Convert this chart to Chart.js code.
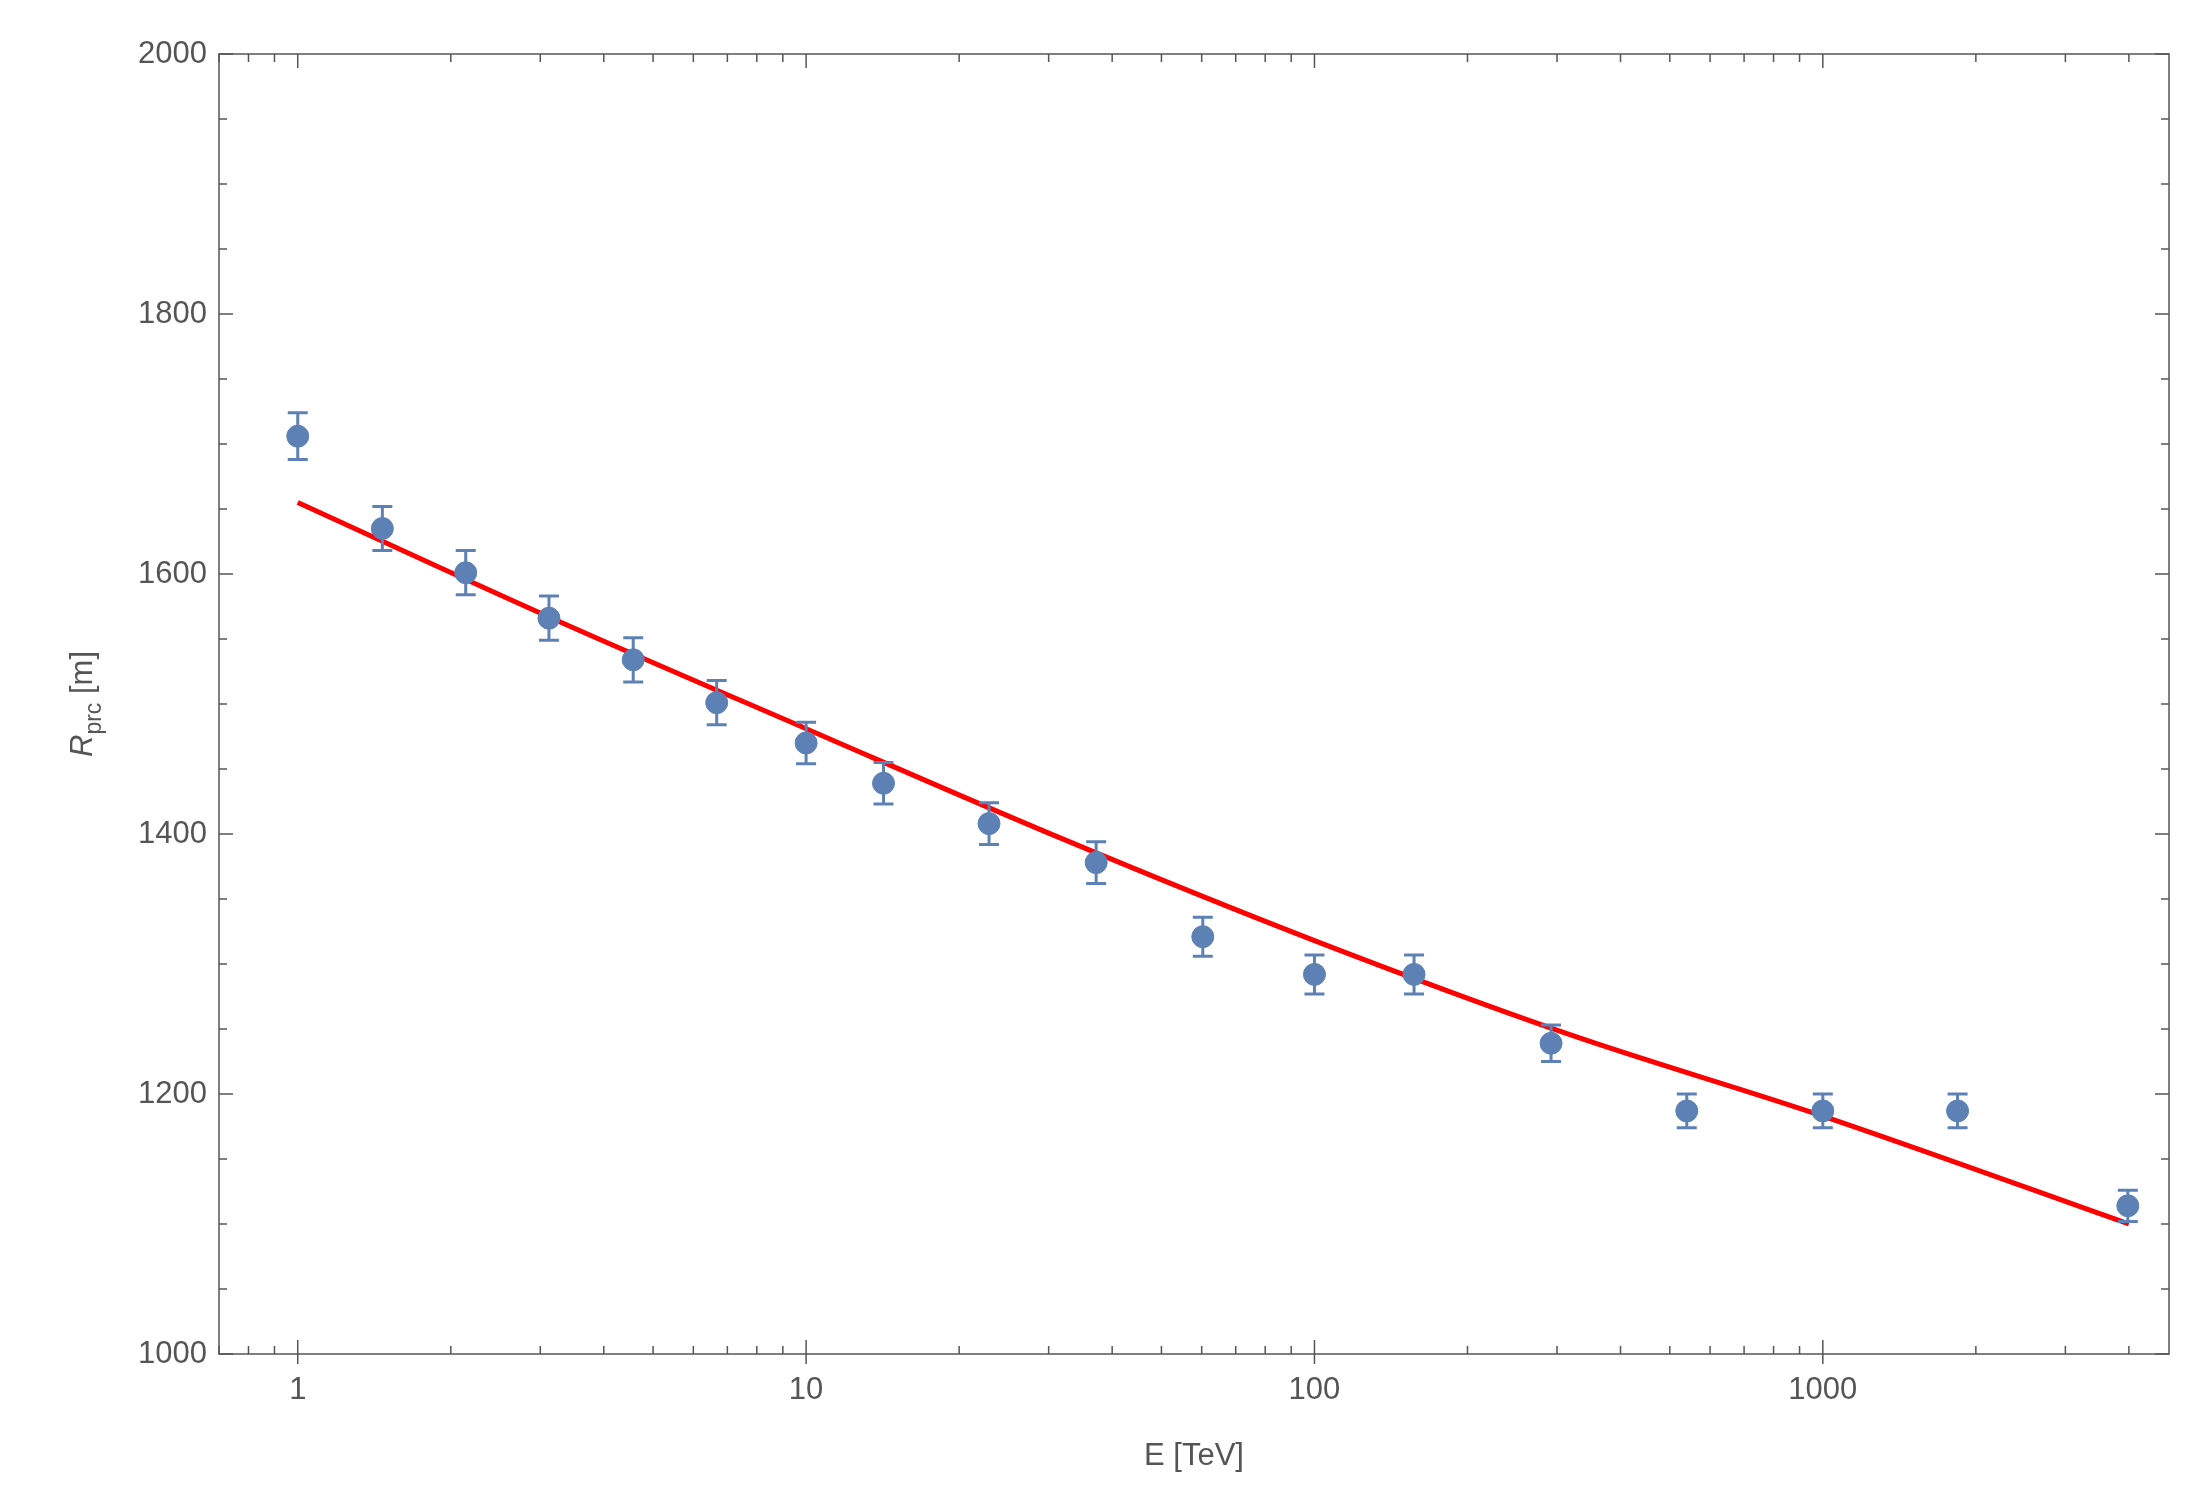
<!DOCTYPE html>
<html><head><meta charset="utf-8">
<script src="https://cdn.jsdelivr.net/npm/chart.js@4/dist/chart.umd.min.js"></script>
<style>html,body{margin:0;padding:0;background:#fff}#w{width:2205px;height:1504px}</style>
</head><body><div id="w"><canvas id="c"></canvas></div>
<script>
const energies = [1, 1.467, 2.14, 3.12, 4.57, 6.67, 10, 14.2, 22.9, 37.2, 60.3, 100, 157, 292, 540, 1000, 1841, 3981];
const ranges   = [1706, 1635, 1601, 1566, 1534, 1501, 1470, 1439, 1408, 1378, 1321, 1292, 1292, 1239, 1187, 1187, 1187, 1114];
const errors   = [18, 17, 17, 17, 17, 17, 16, 16, 16, 16, 15, 15, 15, 14, 13, 13, 13, 12];
const fitE = [1, 3.16, 10, 31.6, 100, 316, 1000, 4000];
const fitR = [1655, 1566, 1481, 1397, 1318, 1246, 1183, 1100];
const xTickLabels = [1, 10, 100, 1000];
const yTickLabels = [1000, 1200, 1400, 1600, 1800, 2000];

const grey = '#555555';
const blue = '#5E81B5';
const FONT = '"Liberation Sans", Arial, sans-serif';

const deco = {
  id: 'deco',
  afterDatasetsDraw(chart) {
    const ctx = chart.ctx, xs = chart.scales.x, ys = chart.scales.y, a = chart.chartArea;
    ctx.save();
    // error bars
    ctx.strokeStyle = blue; ctx.lineWidth = 3;
    energies.forEach((e, i) => {
      const px = xs.getPixelForValue(e);
      const t = ys.getPixelForValue(ranges[i] + errors[i]);
      const b = ys.getPixelForValue(ranges[i] - errors[i]);
      ctx.beginPath();
      ctx.moveTo(px, t); ctx.lineTo(px, b);
      ctx.moveTo(px - 10, t); ctx.lineTo(px + 10, t);
      ctx.moveTo(px - 10, b); ctx.lineTo(px + 10, b);
      ctx.stroke();
    });
    // frame
    ctx.strokeStyle = grey; ctx.lineWidth = 1.5;
    ctx.strokeRect(a.left, a.top, a.right - a.left, a.bottom - a.top);
    // ticks
    ctx.beginPath();
    for (let v = 1000; v <= 2000; v += 50) {
      const py = ys.getPixelForValue(v), L = v % 200 === 0 ? 14 : 8;
      ctx.moveTo(a.left, py); ctx.lineTo(a.left + L, py);
      ctx.moveTo(a.right, py); ctx.lineTo(a.right - L, py);
    }
    for (let d = 0.1; d <= 1000; d *= 10) {
      for (let k = 1; k <= 9; k++) {
        const v = d * k;
        if (v < xs.min || v > xs.max) continue;
        const px = xs.getPixelForValue(v), L = k === 1 ? 14 : 8;
        ctx.moveTo(px, a.bottom); ctx.lineTo(px, a.bottom - L);
        ctx.moveTo(px, a.top); ctx.lineTo(px, a.top + L);
        if (k === 1) { ctx.moveTo(px, a.bottom); ctx.lineTo(px, a.bottom + 10); }
      }
    }
    ctx.stroke();
    // axis titles
    ctx.fillStyle = grey;
    ctx.font = '31px ' + FONT;
    ctx.textAlign = 'center'; ctx.textBaseline = 'alphabetic';
    ctx.fillText('E [TeV]', (a.left + a.right) / 2, 1465);
    ctx.translate(92, (a.top + a.bottom) / 2);
    ctx.rotate(-Math.PI / 2);
    ctx.textAlign = 'left';
    const w1 = (ctx.font = 'italic 31px ' + FONT, ctx.measureText('R').width);
    ctx.font = '23px ' + FONT; const w2 = ctx.measureText('prc').width;
    ctx.font = '31px ' + FONT; const w3 = ctx.measureText(' [m]').width;
    let x0 = -(w1 + w2 + w3) / 2;
    ctx.font = 'italic 31px ' + FONT; ctx.fillText('R', x0, 0);
    ctx.font = '23px ' + FONT; ctx.fillText('prc', x0 + w1, 9);
    ctx.font = '31px ' + FONT; ctx.fillText(' [m]', x0 + w1 + w2, 0);
    ctx.restore();
  }
};

new Chart(document.getElementById('c'), {
  data: {
    datasets: [
      { type: 'line', data: fitE.map((e, i) => ({x: e, y: fitR[i]})), borderColor: '#FF0000', borderWidth: 5, pointRadius: 0, tension: 0.4, cubicInterpolationMode: 'monotone', order: 2 },
      { type: 'scatter', data: energies.map((e, i) => ({x: e, y: ranges[i]})), backgroundColor: blue, borderColor: blue, pointRadius: 11, order: 1 }
    ]
  },
  options: {
    responsive: true, maintainAspectRatio: false, animation: false,
    layout: { padding: { top: 54, right: 36, left: 0, bottom: 0 } },
    plugins: { legend: { display: false }, tooltip: { enabled: false } },
    scales: {
      x: {
        type: 'logarithmic', min: 0.713, max: 4797,
        afterFit: s => { s.height = 150; },
        grid: { display: false, drawTicks: false }, border: { display: false },
        afterBuildTicks: s => { s.ticks = xTickLabels.map(v => ({value: v})); },
        ticks: { color: grey, font: { family: FONT, size: 31 }, padding: 18, maxRotation: 0, callback: v => String(v) }
      },
      y: {
        type: 'linear', min: 1000, max: 2000,
        afterFit: s => { s.width = 219; },
        grid: { display: false, drawTicks: false }, border: { display: false },
        afterBuildTicks: s => { s.ticks = yTickLabels.map(v => ({value: v})); },
        ticks: { color: grey, font: { family: FONT, size: 31 }, padding: 12, callback: v => String(v) }
      }
    }
  },
  plugins: [deco]
});
</script></body></html>
